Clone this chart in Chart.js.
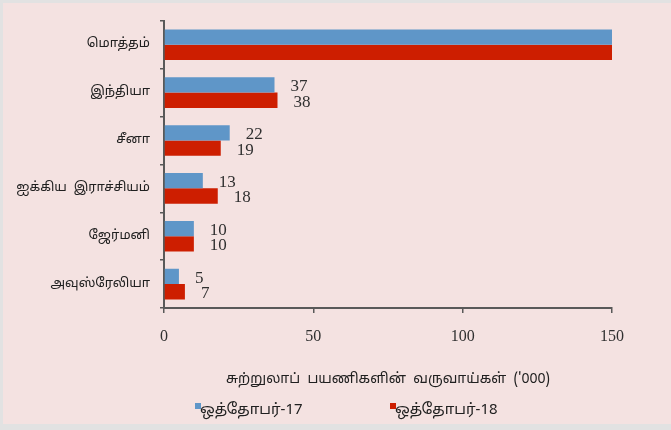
<!DOCTYPE html>
<html>
<head>
<meta charset="utf-8">
<script src="https://cdn.jsdelivr.net/npm/chart.js@4.4.1/dist/chart.umd.min.js"></script>
<style>
  html, body { margin: 0; padding: 0; background: #e2e2e2; }
  #frame { position: absolute; left: 3px; top: 3px; width: 668px; height: 421px; background: #f4e2e1; }
</style>
</head>
<body>
<div id="frame"><canvas id="chart" width="668" height="421"></canvas></div>
<script>
const categories = ['மொத்தம்', 'இந்தியா', 'சீனா', 'ஐக்கிய  இராச்சியம்', 'ஜேர்மனி', 'அவுஸ்ரேலியா'];
const oct17 = [152, 37, 22, 13, 10, 5];
const oct18 = [153, 38, 19, 18, 10, 7];
const seriesNames = ['ஒத்தோபர்-17', 'ஒத்தோபர்-18'];
const xTicks = [0, 50, 100, 150];
const xTitle = "சுற்றுலாப்  பயணிகளின்  வருவாய்கள்  ('000)";

const tamilFont = '"Noto Sans Tamil", "Latha", "Noto Sans", serif';
const numFont = '"Liberation Serif", "DejaVu Serif", serif';
const textColor = '#303030';

// value labels placed just past the end of each bar
const valueLabels = {
  id: 'valueLabels',
  afterDatasetsDraw(chart) {
    const ctx = chart.ctx;
    const max = chart.scales.x.max;
    ctx.save();
    ctx.font = '17px ' + numFont;
    ctx.fillStyle = textColor;
    ctx.textAlign = 'left';
    ctx.textBaseline = 'middle';
    chart.data.datasets.forEach((ds, i) => {
      chart.getDatasetMeta(i).data.forEach((bar, j) => {
        if (ds.data[j] > max) return;
        ctx.fillText(String(ds.data[j]), bar.x + 16, bar.y + 2);
      });
    });
    ctx.restore();
  }
};

// small legend below the axis title
const smallLegend = {
  id: 'smallLegend',
  afterDraw(chart) {
    const ctx = chart.ctx;
    const starts = [192, 387];
    ctx.save();
    ctx.font = '15px ' + tamilFont;
    ctx.textBaseline = 'middle';
    chart.data.datasets.forEach((ds, i) => {
      ctx.fillStyle = ds.backgroundColor;
      ctx.fillRect(starts[i], 400, 6, 6);
      ctx.fillStyle = '#202020';
      ctx.fillText(ds.label, starts[i] + 5, 408);
    });
    ctx.restore();
  }
};

new Chart(document.getElementById('chart'), {
  type: 'bar',
  data: {
    labels: categories,
    datasets: [
      { label: seriesNames[0], data: oct17, backgroundColor: '#5f96c8', borderWidth: 0 },
      { label: seriesNames[1], data: oct18, backgroundColor: '#cd1e00', borderWidth: 0 }
    ]
  },
  options: {
    indexAxis: 'y',
    responsive: false,
    animation: false,
    categoryPercentage: 0.64,
    barPercentage: 1.0,
    layout: { padding: { top: 16, right: 59, bottom: 31, left: 0 } },
    scales: {
      x: {
        min: 0,
        max: 150,
        afterBuildTicks(scale) { scale.ticks = xTicks.map((v) => ({ value: v })); },
        afterFit(scale) { scale.height = 85; },
        grid: { drawOnChartArea: false, drawTicks: true, tickLength: 5, color: '#595959', lineWidth: 1.5 },
        border: { color: '#595959', width: 2 },
        ticks: { color: textColor, font: { family: numFont, size: 16 }, padding: 14 },
        title: { display: true, text: xTitle, color: '#202020', font: { family: tamilFont, size: 14 }, padding: { top: 26 } }
      },
      y: {
        afterFit(scale) { scale.width = 161; },
        grid: { drawOnChartArea: false, drawTicks: true, tickLength: 4, offset: true, color: '#595959', lineWidth: 1.5 },
        border: { color: '#595959', width: 2 },
        ticks: { color: '#202020', font: { family: tamilFont, size: 13 }, padding: 10 }
      }
    },
    plugins: {
      legend: { display: false },
      tooltip: { enabled: false }
    }
  },
  plugins: [valueLabels, smallLegend]
});
</script>
</body>
</html>
